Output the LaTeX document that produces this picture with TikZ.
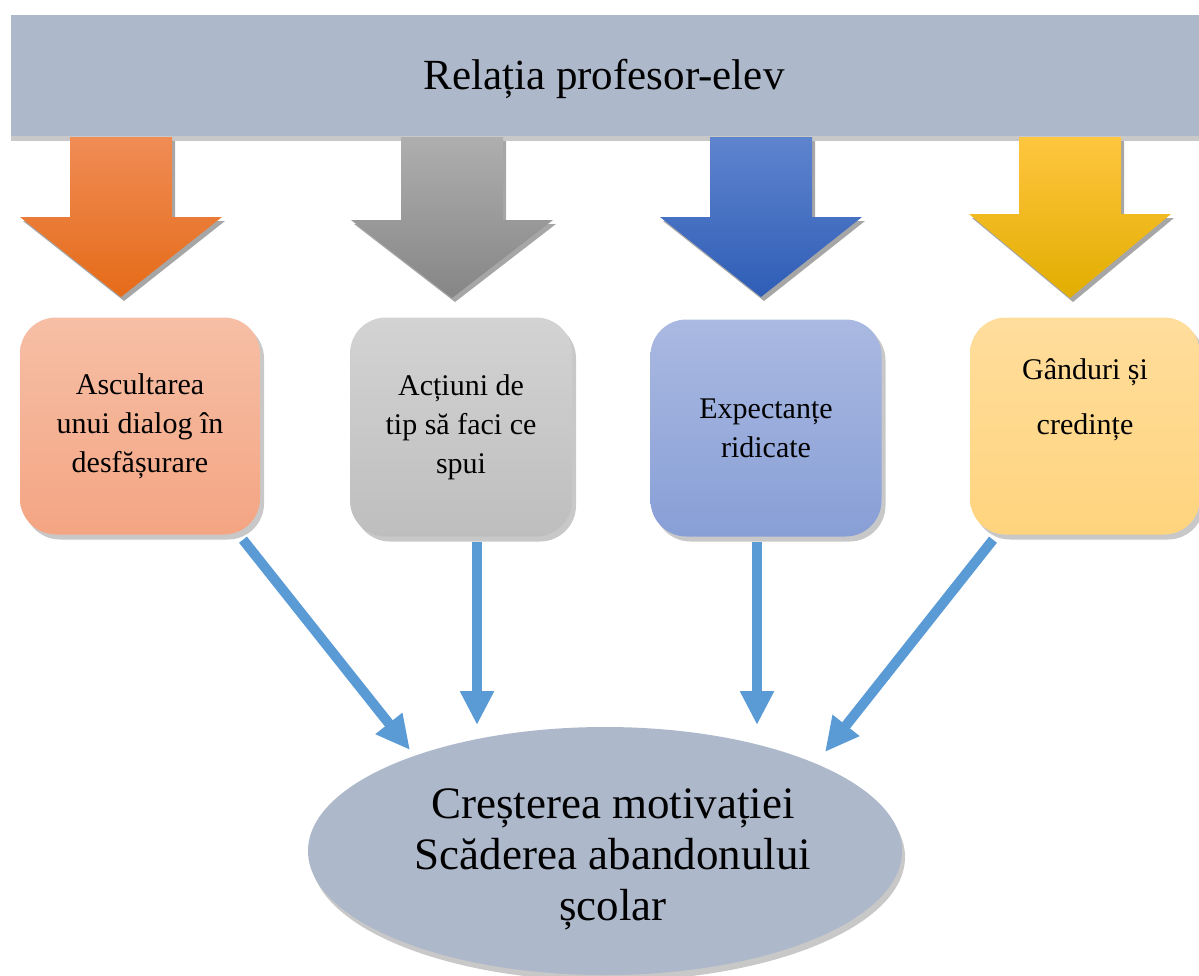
\documentclass[tikz,border=0pt]{standalone}
\usepackage{fontspec}
\setmainfont{Liberation Serif}
\usetikzlibrary{shapes.geometric,arrows.meta,calc,shadows}
\definecolor{barcol}{HTML}{ADB8CA}
\definecolor{conncol}{HTML}{5B9BD5}
\definecolor{orTop}{HTML}{F08C55}
\definecolor{orMid}{HTML}{F47D2A}
\definecolor{orBot}{HTML}{E56B18}
\definecolor{grTop}{HTML}{AEAEAE}
\definecolor{grMid}{HTML}{A0A0A0}
\definecolor{grBot}{HTML}{868686}
\definecolor{blTop}{HTML}{5E84CE}
\definecolor{blMid}{HTML}{4472C4}
\definecolor{blBot}{HTML}{2F5DB6}
\definecolor{yeTop}{HTML}{FFC63F}
\definecolor{yeMid}{HTML}{FFC000}
\definecolor{yeBot}{HTML}{E2AD00}
\definecolor{b1Top}{HTML}{F6BFA6}
\definecolor{b1Bot}{HTML}{F4A583}
\definecolor{b2Top}{HTML}{D3D3D3}
\definecolor{b2Bot}{HTML}{BEBEBE}
\definecolor{b3Top}{HTML}{AAB9E1}
\definecolor{b3Bot}{HTML}{889FD6}
\definecolor{b4Top}{HTML}{FFDD9C}
\definecolor{b4Bot}{HTML}{FFD47E}
\definecolor{shadowcol}{HTML}{C8C8C8}
\newcommand\BigArrow[6]{%
  \fill[black!35] ({#1-51+3},{137+4}) -- ({#1-51+3},{#2+4}) -- ({#1-101+3},{#2+4}) -- ({#1+3},{#3+4}) -- ({#1+101+3},{#2+4}) -- ({#1+51+3},{#2+4}) -- ({#1+51+3},{137+4}) -- cycle;
  \shade[top color=#4, middle color=#5, bottom color=#6] ({#1-51},137) -- ({#1-51},#2) -- ({#1-101},#2) -- (#1,#3) -- ({#1+101},#2) -- ({#1+51},#2) -- ({#1+51},137) -- cycle;
}
\begin{document}
\begin{tikzpicture}[x=1pt,y=-1pt,
  boxnode/.style={rounded corners=36pt, inner sep=0pt, align=center,
    font=\fontsize{30}{39}\selectfont,
    drop shadow={shadow xshift=4pt, shadow yshift=-5pt, fill=shadowcol, opacity=1}},
  conn/.style={draw=conncol, line width=10pt,
    -{Triangle[length=34pt,width=32pt]}}
]
\useasboundingbox (0,0) rectangle (1199,975);
% top bar
\fill[shadowcol] (11,20) rectangle (1199,141);
\node[fill=barcol, minimum width=1188pt, minimum height=121pt, inner sep=0pt,
  anchor=north west] (top) at (11,15) {};
\node[font=\fontsize{43}{50}\selectfont] (toptext) at (604,79) {Relația profesor-elev};
% big arrows
\BigArrow{121}{217}{297}{orTop}{orMid}{orBot}
\BigArrow{452}{220}{298}{grTop}{grMid}{grBot}
\BigArrow{761}{217}{297}{blTop}{blMid}{blBot}
\BigArrow{1070}{214}{298}{yeTop}{yeMid}{yeBot}
% boxes
\node[boxnode, top color=b1Top, bottom color=b1Bot, minimum width=240pt, minimum height=217pt] (b1) at (140,426)
  {Ascultarea\\unui dialog în\\desfășurare};
\node[boxnode, top color=b2Top, bottom color=b2Bot, minimum width=222pt, minimum height=219pt] (b2) at (461,427)
  {Acțiuni de\\tip să faci ce\\spui};
\node[boxnode, top color=b3Top, bottom color=b3Bot, minimum width=231pt, minimum height=217pt] (b3) at (766,428)
  {Expectanțe\\ridicate};
\node[boxnode, top color=b4Top, bottom color=b4Bot, minimum width=230pt, minimum height=217pt] (b4) at (1085,426) {};
\node[align=center, font=\fontsize{30}{55}\selectfont] (b4t) at (1085,400) {Gânduri și\\credințe};
% ellipse
\node[ellipse, fill=barcol, minimum width=594pt, minimum height=248pt, inner sep=0pt,
  drop shadow={shadow xshift=3pt, shadow yshift=-6pt, fill=shadowcol, opacity=1}] (e) at (605,851) {};
\node[align=center, font=\fontsize{45}{51}\selectfont] (et) at (613,859)
  {Creșterea motivației\\Scăderea abandonului\\școlar};
% connectors
\draw[conn] ([xshift=103pt,yshift=-5pt]b1.south) -- ($(e.center)+(-195,-101)$);
\draw[conn] ([xshift=16pt,yshift=-5pt]b2.south) -- ($(e.center)+(-128,-126)$);
\draw[conn] ([xshift=-9pt,yshift=-5pt]b3.south) -- ($(e.center)+(152,-126)$);
\draw[conn] ([xshift=-92pt,yshift=-5pt]b4.south) -- ($(e.center)+(220,-99)$);
\end{tikzpicture}
\end{document}
